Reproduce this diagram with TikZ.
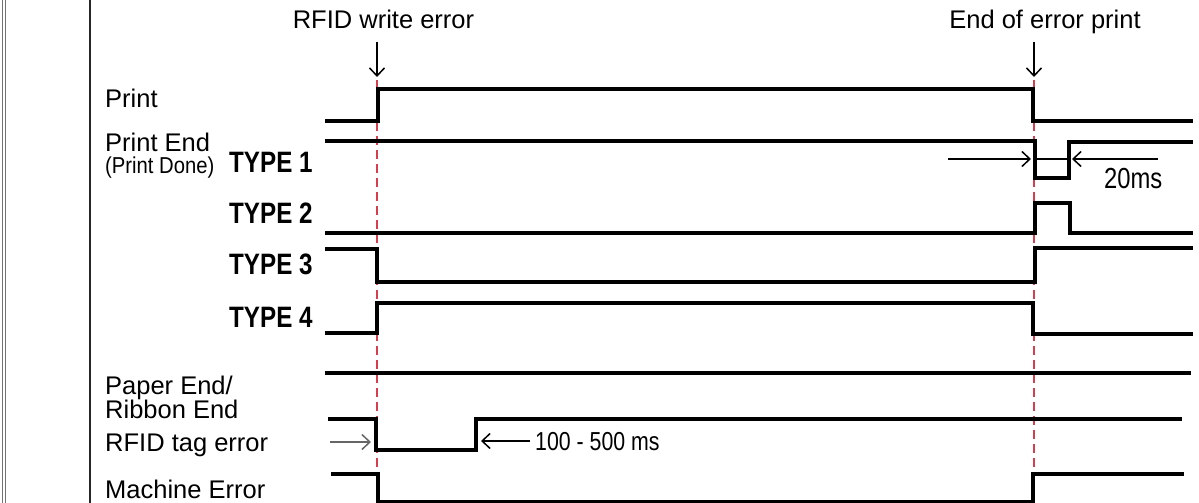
\documentclass[tikz,border=0pt]{standalone}
\usepackage{fontspec}
\setmainfont{Liberation Sans}
\newfontfamily\narrowfont[FakeStretch=0.82]{Liberation Sans}
\newfontfamily\semifont[FakeStretch=0.88]{Liberation Sans}
\usetikzlibrary{arrows.meta}
\definecolor{guidered}{RGB}{212,62,78}
\begin{document}
\begin{tikzpicture}[x=1pt,y=-1pt,
  sig/.style={line width=3.5pt, line join=miter},
  guide/.style={draw=guidered, line width=2.4pt, dash pattern=on 9pt off 5pt},
  thinarrow/.style={line width=1.5pt, -{Straight Barb[length=8pt,width=15pt,line width=1.5pt]}},
  grayarrow/.style={thinarrow, draw=black!60},
  lbl/.style={anchor=base west, inner sep=0pt, font=\fontsize{25.5}{30}\selectfont},
  small/.style={anchor=base west, inner sep=0pt, font=\semifont\fontsize{23}{27}\selectfont},
  typ/.style={anchor=base west, inner sep=0pt, font=\narrowfont\bfseries\fontsize{29.5}{34}\selectfont},
  dur/.style={anchor=base west, inner sep=0pt, font=\narrowfont\fontsize{26}{30}\selectfont},
]
\useasboundingbox (0,0) rectangle (1199,503);
\fill[white] (0,0) rectangle (1199,503);

% frame lines at left
\draw[black!55, line width=0.8pt] (2,0) -- (2,503);
\draw[black!55, line width=0.8pt] (5,0) -- (5,503);
\draw[black!85, line width=2pt] (90,0) -- (90,503);

% event coordinates
\coordinate (e1top) at (377,42);
\coordinate (e1) at (377,77);
\coordinate (e1d) at (377,80);
\coordinate (e1bot) at (377,503);
\coordinate (e2top) at (1034,42);
\coordinate (e2) at (1034,77);
\coordinate (e2d) at (1034,80);
\coordinate (e2bot) at (1034,503);

% event labels
\node[lbl, anchor=base] (rwe) at (383.5,29) {RFID write error};
\node[lbl, anchor=base] (eep) at (1045,29) {End of error print};
\draw[thinarrow] (e1top) -- (e1);
\draw[thinarrow] (e2top) -- (e2);

% guide lines
\draw[guide] (e1d) -- (e1bot);
\draw[guide] (e2d) -- (e2bot);

% signal labels
\node[lbl] (print) at (105,107) {Print};
\node[lbl] (pend) at (105,151) {Print End};
\node[small] (pdone) at (105,173) {(Print Done)};
\node[typ] (t1) at (229,172.5) {TYPE 1};
\node[typ] (t2) at (229,223) {TYPE 2};
\node[typ] (t3) at (229,274) {TYPE 3};
\node[typ] (t4) at (229,327) {TYPE 4};
\node[lbl] (paper) at (105,394) {Paper End/};
\node[lbl] (ribbon) at (105,418) {Ribbon End};
\node[lbl] (rfid) at (105,451) {RFID tag error};
\node[lbl] (mach) at (105,498) {Machine Error};

% waveforms
\draw[sig] (325,121) -- (378,121) -- (378,89) -- (1033,89) -- (1033,121) -- (1193,121);
\draw[sig] (325,141) -- (1035,141) -- (1035,178) -- (1069,178) -- (1069,142) -- (1193,142);
\draw[sig] (325,233) -- (1035,233) -- (1035,203) -- (1070,203) -- (1070,233) -- (1193,233);
\draw[sig] (325,249) -- (377,249) -- (377,282) -- (1035,282) -- (1035,248) -- (1193,248);
\draw[sig] (325,333) -- (377,333) -- (377,303) -- (1033,303) -- (1033,334) -- (1193,334);
\draw[sig] (325,373) -- (1191,373);
\draw[sig] (328,419) -- (376,419) -- (376,450) -- (476,450) -- (476,419) -- (1182,419);
\draw[sig] (331,474) -- (378,474) -- (378,502) -- (1033,502) -- (1033,474) -- (1184,474);

% 20 ms pulse width
\coordinate (w1a) at (948,159);
\coordinate (w1b) at (1031,159);
\coordinate (w2a) at (1158,159);
\coordinate (w2b) at (1072,159);
\draw[thinarrow] (w1a) -- (w1b);
\draw[thinarrow] (w2a) -- (w2b);
\draw[line width=1.5pt] (1035,159) -- (1069,159);
\node[dur, font=\narrowfont\fontsize{29}{33}\selectfont] (ms20) at (1104,188) {20ms};

% 100-500 ms
\coordinate (r1a) at (330,442);
\coordinate (r1b) at (371,442);
\coordinate (r2a) at (530,441);
\coordinate (r2b) at (481,441);
\draw[grayarrow] (r1a) -- (r1b);
\draw[thinarrow] (r2a) -- (r2b);
\node[dur] (ms100) at (535,450) {100 - 500 ms};
\end{tikzpicture}
\end{document}
